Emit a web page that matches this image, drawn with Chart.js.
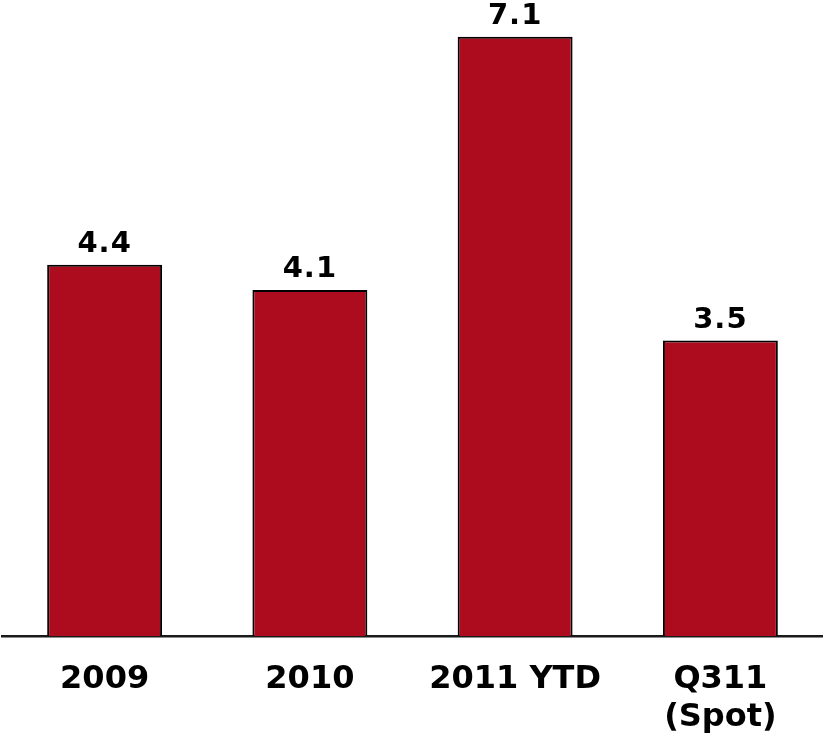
<!DOCTYPE html>
<html>
<head>
<meta charset="utf-8">
<script src="https://cdn.jsdelivr.net/npm/chart.js@4.4.0/dist/chart.umd.min.js"></script>
<style>
  html, body { margin: 0; padding: 0; background: #fff; }
  #wrap { width: 823px; height: 737px; }
</style>
</head>
<body>
<div id="wrap"><canvas id="myChart" width="823" height="737"></canvas></div>
<script>
var categories = [["2009"], ["2010"], ["2011 YTD"], ["Q311", "(Spot)"]];
var values = [4.4, 4.1, 7.1, 3.5];
var valueLabels = ["4.4", "4.1", "7.1", "3.5"];

var barLabels = {
  id: "barLabels",
  afterDatasetsDraw: function(chart) {
    var ctx = chart.ctx;
    var meta = chart.getDatasetMeta(0);
    ctx.save();
    ctx.font = "bold 29px 'DejaVu Sans'";
    ctx.letterSpacing = "1px";
    ctx.fillStyle = "#000";
    ctx.textAlign = "center";
    ctx.textBaseline = "alphabetic";
    meta.data.forEach(function(bar, i) {
      ctx.fillText(valueLabels[i], bar.x, bar.y - 13);
    });
    ctx.restore();
  }
};

new Chart(document.getElementById("myChart"), {
  type: "bar",
  data: {
    labels: categories,
    datasets: [{
      data: values,
      backgroundColor: "#AD0C1E",
      borderColor: "#000",
      borderWidth: 2,
      barPercentage: 0.56,
      categoryPercentage: 1
    }]
  },
  options: {
    responsive: false,
    animation: false,
    layout: { padding: { left: 2, right: 0, top: 3, bottom: 0 } },
    plugins: { legend: { display: false }, tooltip: { enabled: false } },
    scales: {
      x: {
        grid: { display: false, drawTicks: false },
        border: { display: true, color: "#1a1a1a", width: 2.5 },
        ticks: {
          color: "#000",
          padding: 25,
          font: { family: "'DejaVu Sans'", size: 32, weight: "bold", lineHeight: 1.18 }
        },
        afterFit: function(axis) { axis.height = 101; }
      },
      y: {
        display: false,
        min: 0,
        max: 7.5
      }
    }
  },
  plugins: [barLabels]
});
</script>
</body>
</html>
